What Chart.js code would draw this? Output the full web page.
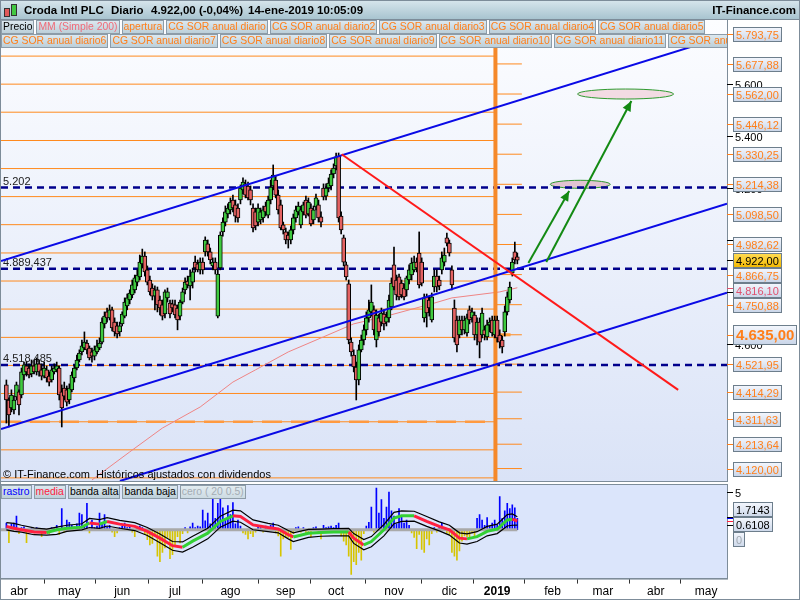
<!DOCTYPE html>
<html>
<head>
<meta charset="utf-8">
<title>Croda Intl PLC - Diario</title>
<script src="https://cdn.jsdelivr.net/npm/chart.js@4.4.1/dist/chart.umd.min.js"></script>
<style>
  body { margin: 0; background: #fff; font-family: "Liberation Sans", Arial, sans-serif; }
  #wrap { position: relative; width: 800px; height: 600px; overflow: hidden; }
  canvas { position: absolute; left: 0; }
  #main { top: 0; }
  #osc { top: 484px; }
  #head { position: absolute; left: 0; top: 0; width: 800px; height: 20px; box-sizing: border-box;
          border: 1px solid #7d8c99; background: linear-gradient(#d5e4eb, #a8c4d0);
          font-weight: bold; font-size: 11.5px; color: #000; }
  #head span { position: absolute; top: 3px; white-space: nowrap; }
  .ic { position: absolute; border: 1px solid #333; }
  .lg { position: absolute; left: 1px; width: 726px; height: 14px; overflow: hidden; white-space: nowrap;
        font-size: 10.4px; line-height: 12px; }
  .lg span { display: inline-block; height: 12px; padding: 0 1px; margin-right: 2px; border: 1px solid #8d9ca8;
             background: linear-gradient(#dce8ef, #bccfd9); color: #ff7f1a; vertical-align: top; }
  #frame { position: absolute; left: 0; top: 0; width: 800px; height: 600px; box-sizing: border-box;
           border: 1px solid #7d8c99; pointer-events: none; }
</style>
</head>
<body>
<div id="wrap">
  <canvas id="main" width="800" height="484"></canvas>
  <canvas id="osc" width="800" height="116"></canvas>

  <div id="head">
    <div class="ic" style="left:3px;top:7px;width:4px;height:7px;background:#e05a5a"></div>
    <div class="ic" style="left:10px;top:3px;width:4px;height:10px;background:#42c842"></div>
    <span style="left:23px">Croda Intl PLC</span>
    <span style="left:110px">Diario</span>
    <span style="left:150px">4.922,00 (-0,04%)</span>
    <span style="left:247px">14-ene-2019 10:05:09</span>
    <span style="right:3px">IT-Finance.com</span>
  </div>

  <div class="lg" style="top:20px">
    <span style="color:#000">Precio</span><span style="color:#f06a78">MM (Simple 200)</span><span>apertura</span><span>CG SOR anual diario</span><span>CG SOR anual diario2</span><span>CG SOR anual diario3</span><span>CG SOR anual diario4</span><span>CG SOR anual diario5</span>
  </div>
  <div class="lg" style="top:34px">
    <span>CG SOR anual diario6</span><span>CG SOR anual diario7</span><span>CG SOR anual diario8</span><span>CG SOR anual diario9</span><span>CG SOR anual diario10</span><span>CG SOR anual diario11</span><span>CG SOR anual diario12</span>
  </div>
  <div class="lg" style="top:485px">
    <span style="color:#0000ff">rastro</span><span style="color:#ff2040">media</span><span style="color:#000">banda alta</span><span style="color:#000">banda baja</span><span style="color:#a4acb4;background:linear-gradient(#e2ecf1,#cddbe3)">cero ( 20 0.5)</span>
  </div>
  <div id="frame"></div>
</div>

<script>
// x = trading day number (0 = 23-mar-2018), y = price in pence
var idxMin = -2.14, idxMax = 286.3;
var priceMin = 4072, priceMax = 5847;
var oscMin = -6.45, oscMax = 5.92;

var monthTicks = [5, 25, 46, 67, 89, 111, 131, 154, 176, 195, 217, 237, 258, 278];
var monthNames = ['abr', 'may', 'jun', 'jul', 'ago', 'sep', 'oct', 'nov', 'dic', '2019', 'feb', 'mar', 'abr', 'may'];

var openP = [
  4442,4384,4353,4346,4396,4415,4403,4480,4515,4507,
  4484,4515,4492,4523,4500,4476,4500,4476,4461,4492,
  4500,4507,4415,4430,4423,4384,4423,4469,4507,4538,
  4569,4584,4603,4584,4569,4553,4569,4584,4607,4677,
  4723,4700,4731,4684,4669,4646,4677,4707,4746,4769,
  4788,4808,4838,4858,4908,4938,4885,4846,4815,4784,
  4808,4769,4750,4715,4777,4757,4754,4750,4738,4707,
  4761,4808,4842,4823,4838,4915,4908,4885,4915,4954,
  4985,4954,4900,4915,4707,4892,5031,5069,5100,5116,
  5154,5135,5123,5154,5193,5216,5208,5193,5123,5108,
  5069,5077,5085,5131,5096,5154,5208,5231,5173,5135,
  5058,5031,5019,5000,5039,5085,5108,5058,5108,5154,
  5100,5123,5077,5127,5135,5089,5200,5169,5200,5208,
  5254,5285,5323,5092,5008,4904,4831,4607,4557,4511,
  4461,4577,4615,4654,4700,4723,4731,4615,4700,4684,
  4715,4684,4700,4742,4904,4846,4858,4834,4815,4808,
  4846,4865,4885,4915,4950,4915,4700,4781,4769,4692,
  4819,4861,4846,4885,4915,5008,4988,4885,4738,4692,
  4634,4692,4654,4642,4731,4700,4711,4634,4684,4634,
  4654,4627,4673,4692,4634,4692,4634,4615,4646,4723,
  4769,4873,4954,4935
];
var highP = [
  4461,4392,4423,4399,4453,4423,4507,4530,4530,4523,
  4538,4538,4546,4538,4523,4530,4515,4492,4515,4523,
  4530,4515,4442,4453,4438,4446,4492,4519,4557,4577,
  4615,4646,4615,4592,4584,4592,4615,4623,4700,4723,
  4738,4750,4742,4700,4684,4684,4723,4777,4792,4808,
  4846,4865,4885,4942,4965,4954,4900,4861,4831,4823,
  4819,4784,4769,4808,4815,4769,4769,4769,4750,4769,
  4815,4854,4861,4885,4892,4938,4923,4931,4931,5012,
  5000,4969,4931,4931,4885,5031,5085,5131,5139,5162,
  5173,5154,5139,5212,5239,5231,5223,5208,5139,5123,
  5139,5123,5131,5146,5169,5231,5289,5246,5193,5154,
  5069,5046,5031,5054,5100,5131,5146,5131,5146,5169,
  5162,5139,5131,5177,5154,5108,5216,5216,5239,5270,
  5293,5335,5335,5108,5019,4915,4846,4623,4577,4530,
  4596,4634,4673,4723,4769,4827,4746,4731,4715,4738,
  4731,4723,4788,4854,4973,4865,4869,4846,4831,4861,
  4904,4931,4938,4931,5031,4931,4792,4792,4784,4796,
  4885,4885,4861,4954,4969,5027,5000,4900,4769,4707,
  4707,4707,4707,4715,4746,4738,4723,4700,4700,4738,
  4669,4692,4700,4707,4707,4707,4654,4630,4746,4800,
  4838,4931,4992,4950
];
var lowP = [
  4295,4280,4338,4330,4384,4326,4392,4461,4476,4469,
  4473,4484,4480,4476,4461,4469,4453,4438,4453,4484,
  4492,4384,4280,4384,4361,4369,4415,4453,4500,4530,
  4557,4577,4561,4538,4530,4538,4561,4577,4600,4661,
  4684,4692,4650,4630,4623,4630,4669,4700,4731,4754,
  4777,4796,4823,4846,4892,4861,4827,4788,4769,4731,
  4723,4711,4692,4700,4761,4700,4723,4700,4654,4692,
  4754,4792,4815,4769,4815,4877,4877,4869,4869,4938,
  4938,4908,4885,4869,4700,4885,5015,5054,5085,5100,
  5108,5069,5069,5139,5177,5162,5154,5135,5031,5039,
  5054,5062,5069,5092,5085,5139,5193,5162,5100,5039,
  5023,4985,4969,4985,5023,5069,5096,5046,5096,5085,
  5092,5054,5062,5116,5069,5050,5154,5154,5185,5193,
  5239,5270,5069,5023,4900,4846,4600,4553,4492,4384,
  4442,4569,4596,4634,4684,4707,4634,4588,4630,4669,
  4654,4669,4684,4731,4808,4769,4769,4777,4769,4784,
  4831,4846,4877,4877,4815,4823,4684,4665,4707,4684,
  4800,4800,4808,4869,4900,4977,4938,4808,4607,4569,
  4623,4634,4638,4630,4677,4684,4615,4596,4546,4623,
  4615,4615,4646,4630,4623,4607,4584,4565,4630,4711,
  4757,4861,4908,4908
];
var closeP = [
  4384,4326,4403,4384,4442,4365,4492,4519,4492,4480,
  4515,4492,4523,4492,4476,4507,4469,4453,4500,4507,
  4515,4403,4353,4399,4376,4430,4480,4507,4538,4565,
  4592,4607,4577,4546,4553,4577,4592,4603,4684,4707,
  4700,4731,4661,4646,4638,4669,4715,4761,4777,4796,
  4827,4854,4865,4915,4938,4877,4838,4800,4784,4808,
  4750,4738,4707,4800,4800,4715,4738,4711,4692,4761,
  4800,4838,4827,4861,4877,4892,4885,4915,4885,5000,
  4954,4923,4915,4885,4869,5019,5069,5108,5123,5146,
  5123,5092,5085,5200,5223,5173,5162,5154,5046,5054,
  5123,5108,5116,5108,5154,5204,5250,5173,5116,5046,
  5039,5000,5000,5039,5085,5116,5131,5116,5135,5096,
  5146,5062,5116,5162,5085,5069,5166,5200,5219,5254,
  5277,5320,5085,5039,4915,4858,4615,4569,4511,4461,
  4577,4615,4654,4700,4731,4761,4654,4711,4646,4719,
  4677,4704,4769,4834,4819,4788,4781,4788,4781,4854,
  4885,4911,4915,4892,4827,4834,4777,4719,4738,4781,
  4861,4819,4823,4931,4942,4988,4950,4827,4623,4596,
  4692,4654,4692,4700,4692,4723,4634,4684,4607,4719,
  4634,4673,4684,4642,4692,4623,4607,4588,4723,4781,
  4819,4915,4923,4922
];

var ma200Idx = [34, 49, 62, 77, 90, 99, 112, 126, 138, 151, 170, 177, 196, 203];
var ma200Val = [4076, 4184, 4276, 4357, 4453, 4500, 4569, 4627, 4677, 4707, 4757, 4777, 4800, 4816.10];

var gridLevels = [5708, 5600, 5492, 5383, 5275, 5167, 5059, 4950, 4842, 4734, 4625, 4517, 4409, 4300, 4192, 4084];
var sorLevels = [5793.75, 5677.88, 5562.00, 5446.12, 5330.25, 5214.38, 5098.50, 4982.62,
                 4866.75, 4750.88, 4635.00, 4521.95, 4414.29, 4311.63, 4213.64, 4120.00];
var priceTicks = [5600, 5400, 5200, 5000, 4800, 4600];
var lastPrice = 4922, ma200Last = 4816.10, aperturaLevel = 4635, dashedLevel = 4300;
var supportLevels = [5202, 4889.437, 4518.485];
var supportText = ['5.202', '4.889,437', '4.518,485'];
var yearIdx = 194.3;

var channelTop = [[-2.14, 4919], [286.3, 5787]];
var channelMid = [[-2.14, 4272], [286.3, 5140]];
var channelLow = [[45.1, 4072], [286.3, 4797]];
var redTrend = [[133.2, 5330], [266.9, 4423]];
var arrowA = [[207.4, 4911], [223.6, 5189]];
var arrowB = [[214.5, 4915], [248.3, 5535]];
var targetIdx = [228, 246];
var targetPrice = [5214.38, 5562.00];

var rastro = [
  0.9,-1.7,0.8,0.9,1.8,-0.5,0.3,0.4,-1.7,-0.3,
  0.2,-0.4,0.3,-0.2,-0.9,0.2,-0.4,-0.5,0.3,0.2,
  0.6,-0.6,2.8,-0.3,1.3,1.0,0.6,0.4,0.8,2.2,
  2.0,0.5,3.5,-0.4,1.3,0.3,0.5,2.2,1.0,2.0,
  0.4,0.6,-0.3,-0.9,-0.4,0.3,0.5,0.9,0.3,0.4,
  -0.3,-0.9,0.2,0.5,0.3,-0.6,-1.3,-2.0,-1.8,-0.8,
  -3.5,-4.2,-3.0,-2.4,-1.0,-3.8,-3.3,-2.0,-0.9,-1.75,
  -0.5,0.3,-0.4,0.4,0.9,0.3,0.5,0.4,2.6,1.2,
  2.2,0.8,4.2,1.5,3.5,4.2,2.9,1.4,3.2,2.0,
  3.6,0.8,1.3,0.5,-0.4,-0.6,-1.2,-0.5,-0.9,-0.3,
  0.4,0.3,-0.3,0.5,0.4,0.6,0.9,-0.4,-0.8,-3.5,
  -1.2,-0.9,-1.0,-2.6,-0.5,0.3,0.4,-0.3,0.3,-0.4,
  -0.5,-0.9,0.3,0.4,-0.5,-1.2,0.6,0.3,0.4,0.5,
  0.3,0.6,0.9,-0.8,-1.5,-2.0,-3.5,-5.9,-4.2,-4.6,
  -3.0,-4.0,-0.5,0.5,1.0,3.0,-0.3,5.5,2.2,4.0,
  1.5,3.0,5.0,2.5,1.8,0.8,2.8,1.8,0.9,1.3,
  0.6,-0.4,-1.0,-2.5,-0.6,-2.6,-3.0,-1.2,-2.0,-0.5,
  0.3,-0.3,0.4,0.9,0.3,-0.4,-0.6,-3.0,-3.5,-4.0,
  -2.8,-1.5,-0.8,-0.9,-1.0,-0.4,-0.8,1.5,2.0,1.3,
  0.6,1.6,0.5,0.9,1.3,0.7,4.4,1.5,2.5,3.5,
  2.8,3.3,2.9,1.5
];

var oscIdx = [0,3,6,11,16,20,24,30,33,37,40,45,51,56,61,66,70,74,80,85,90,93,98,104,108,
              112,114,120,125,130,136,138,142,145,150,154,157,162,167,172,176,180,183,187,191,195,199,201,203];
var media = [0.45,0.2,0,-0.3,-0.35,0,0.2,0.35,0.9,0.75,1.1,0.75,0.45,-0.2,-1.1,-2.1,-2.3,-1.5,-0.45,1.1,
             1.85,1.75,0.65,0.3,0.1,-0.65,-0.95,-0.45,-0.35,-0.3,-0.3,-1.1,-2.0,-1.55,0,1.55,1.85,1.85,1.1,0.45,
             0,-1.1,-1.2,-0.9,-0.2,0.1,1.3,1.4,1.16];
var bandHi = [0.95,0.85,0.6,0.25,0.1,0.35,0.6,0.8,1.5,1.35,1.6,1.25,0.95,0.3,-0.55,-1.55,-1.6,-0.85,0.2,1.8,
              2.6,2.5,1.3,0.85,0.6,-0.1,-0.4,0.05,0.1,0.15,0.2,-0.5,-1.3,-0.9,0.7,2.3,2.5,2.45,1.75,1.05,
              0.6,-0.4,-0.55,-0.25,0.45,0.75,2.0,2.1,1.7143];
var bandLo = [0,-0.2,-0.3,-0.65,-0.7,-0.6,-0.2,0,0.3,0.2,0.5,0.2,-0.1,-0.75,-1.7,-2.7,-2.95,-2.3,-1.2,0.35,
              1.15,1.0,0,-0.25,-0.4,-1.2,-1.55,-1.0,-0.85,-0.8,-0.8,-1.8,-2.65,-2.25,-0.8,0.8,1.1,1.15,0.45,-0.15,
              -0.7,-1.75,-1.9,-1.55,-0.8,-0.5,0.5,0.6,0.6108];

var FONT = '"Liberation Sans", Arial, sans-serif';

function fmtEs(v, dec) {
  var s = v.toFixed(dec).split('.');
  var ent = s[0].replace(/\B(?=(\d{3})+(?!\d))/g, '.');
  return dec ? ent + ',' + s[1] : ent;
}

function line(pts, color, width, order, dash) {
  return {
    type: 'line',
    data: pts.map(function (p) { return {x: p[0], y: p[1]}; }),
    borderColor: color, borderWidth: width, borderDash: dash || [],
    pointRadius: 0, fill: false, tension: 0, order: order
  };
}

function drawTag(c, t, x) {
  c.font = t.font;
  var w = Math.round(c.measureText(t.text).width) + 5;
  var top = Math.round(t.cy - t.h / 2) + 0.5;
  var g = c.createLinearGradient(0, top, 0, top + t.h);
  g.addColorStop(0, t.bg[0]); g.addColorStop(1, t.bg[1]);
  c.fillStyle = g;
  c.fillRect(x + 0.5, top, w, t.h);
  c.strokeStyle = '#6d7e8c'; c.lineWidth = 1;
  c.strokeRect(x + 0.5, top, w, t.h);
  c.fillStyle = t.color; c.textBaseline = 'middle'; c.textAlign = 'left';
  c.fillText(t.text, x + 3, top + t.h / 2 + 1);
}

function spread(tags, pushOnly) {
  tags.sort(function (p, q) { return p.y - q.y; });
  tags.forEach(function (t) { t.cy = t.y; });
  for (var it = 0; it < 40; it++) {
    for (var k = 1; k < tags.length; k++) {
      var p = tags[k - 1], q = tags[k], need = (p.h + q.h) / 2 + 1, d = q.cy - p.cy;
      if (d < need) {
        if (pushOnly) { q.cy = p.cy + need; }
        else { var m = (need - d) / 2; p.cy -= m; q.cy += m; }
      }
    }
  }
}

// ---------- main price chart ----------
var idx = closeP.map(function (v, i) { return i; });
var wickData = idx.map(function (i) { return {x: i, y: [lowP[i], highP[i]]}; });
var bodyData = idx.map(function (i) { return {x: i, y: [openP[i], closeP[i]]}; });
var bodyColors = idx.map(function (i) { return closeP[i] >= openP[i] ? '#3fca3f' : '#e46262'; });

var ds = [];
gridLevels.forEach(function (v) { ds.push(line([[idxMin, v], [yearIdx, v]], '#ff8a1e', 1, 20)); });
sorLevels.forEach(function (v) { ds.push(line([[yearIdx, v], [yearIdx + 10.5, v]], '#ff8a1e', 1, 20)); });
ds.push(line([[yearIdx, aperturaLevel], [yearIdx + 6, aperturaLevel]], '#ff9a36', 3, 19));
ds.push(line([[idxMin, dashedLevel], [yearIdx, dashedLevel]], '#ff9a40', 2.5, 19, [20, 9]));
supportLevels.forEach(function (v) { ds.push(line([[idxMin, v], [idxMax, v]], '#00008c', 2.5, 18, [7, 5])); });
ds.push(line(ma200Idx.map(function (x, k) { return [x, ma200Val[k]]; }), '#ef8585', 1, 17));
ds.push(line([[yearIdx, priceMin], [yearIdx, priceMax]], '#f5892a', 4, 16));
ds.push({type: 'bar', data: wickData, backgroundColor: '#000', barThickness: 1, grouped: false, order: 15});
ds.push({type: 'bar', data: bodyData, backgroundColor: bodyColors, borderColor: '#000', borderWidth: 1,
         borderSkipped: false, barThickness: 4, grouped: false, order: 14});
[channelTop, channelMid, channelLow].forEach(function (l) { ds.push(line(l, '#0a0ae6', 2, 10)); });
ds.push(line(redTrend, '#ff1a1a', 2, 9));
ds.push(line(arrowA, '#138a13', 2, 8));
ds.push(line(arrowB, '#138a13', 2, 8));

var mainDecor = {
  id: 'mainDecor',
  beforeDraw: function (chart) {
    var a = chart.chartArea, c = chart.ctx;
    var g = c.createLinearGradient(0, a.top, 0, a.bottom);
    g.addColorStop(0, '#fcfdff'); g.addColorStop(1, '#dae3f7');
    c.fillStyle = g;
    c.fillRect(a.left, a.top, a.right - a.left, a.bottom - a.top);
  },
  beforeDatasetsDraw: function (chart) {
    var c = chart.ctx, xs = chart.scales.x, ys = chart.scales.y;
    c.save();
    c.font = '11px ' + FONT; c.fillStyle = '#202020'; c.textBaseline = 'alphabetic';
    supportLevels.forEach(function (v, k) { c.fillText(supportText[k], 3, ys.getPixelForValue(v) - 3); });
    var rad = [[30, 4], [48, 5]];
    targetIdx.forEach(function (ix, k) {
      c.beginPath();
      c.ellipse(xs.getPixelForValue(ix), ys.getPixelForValue(targetPrice[k]), rad[k][0], rad[k][1], 0, 0, Math.PI * 2);
      c.fillStyle = k ? '#f3dbe3' : '#e2c3d2'; c.fill();
      c.strokeStyle = '#2f9a2f'; c.lineWidth = 1; c.stroke();
    });
    c.restore();
  },
  afterDatasetsDraw: function (chart) {
    var c = chart.ctx, xs = chart.scales.x, ys = chart.scales.y, a = chart.chartArea;
    c.save();
    [arrowA, arrowB].forEach(function (l) {
      var x0 = xs.getPixelForValue(l[0][0]), y0 = ys.getPixelForValue(l[0][1]);
      var x1 = xs.getPixelForValue(l[1][0]), y1 = ys.getPixelForValue(l[1][1]);
      var ang = Math.atan2(y1 - y0, x1 - x0);
      c.beginPath();
      c.moveTo(x1, y1);
      c.lineTo(x1 - 10 * Math.cos(ang) + 4.5 * Math.sin(ang), y1 - 10 * Math.sin(ang) - 4.5 * Math.cos(ang));
      c.lineTo(x1 - 10 * Math.cos(ang) - 4.5 * Math.sin(ang), y1 - 10 * Math.sin(ang) + 4.5 * Math.cos(ang));
      c.closePath();
      c.fillStyle = '#138a13'; c.fill();
    });
    c.font = '11px ' + FONT; c.fillStyle = '#000'; c.textBaseline = 'middle';
    c.fillText('\u00a9 IT-Finance.com  Hist\u00f3ricos ajustados con dividendos', 3, a.bottom - 6);
    c.restore();
  },
  afterDraw: function (chart) {
    var c = chart.ctx, a = chart.chartArea, ys = chart.scales.y;
    c.save();
    c.strokeStyle = '#7d8c99'; c.lineWidth = 1;
    c.strokeRect(a.left - 0.5, a.top - 0.5, a.right - a.left + 1, a.bottom - a.top + 1);

    c.font = '11px ' + FONT; c.textBaseline = 'middle'; c.textAlign = 'left';
    priceTicks.forEach(function (v) {
      var y = Math.round(ys.getPixelForValue(v)) + 0.5;
      c.strokeStyle = '#000'; c.beginPath(); c.moveTo(a.right, y); c.lineTo(a.right + 6, y); c.stroke();
      c.fillStyle = '#000'; c.fillText(fmtEs(v, 0), a.right + 8, y + 1);
    });

    var orange = {color: '#ff7f1a', font: '11px ' + FONT, h: 14, bg: ['#f4f7fd', '#c9d5e8'], tick: '#ff7f1a'};
    var tags = sorLevels.map(function (v) {
      var t = Object.assign({}, orange, {v: v, text: fmtEs(v, 2)});
      if (v === aperturaLevel) { t.font = 'bold 15px ' + FONT; t.h = 19; }
      return t;
    });
    tags.push(Object.assign({}, orange, {v: ma200Last, text: fmtEs(ma200Last, 2), color: '#e0506e', tick: '#e0506e'}));
    tags.push(Object.assign({}, orange, {v: lastPrice, text: fmtEs(lastPrice, 2), color: '#000',
                                         bg: ['#ffdc55', '#f2b800'], tick: '#000'}));
    tags.forEach(function (t) { t.y = ys.getPixelForValue(t.v); });
    spread(tags, true);
    tags.forEach(function (t) {
      var y = Math.round(t.y) + 0.5;
      c.strokeStyle = t.tick; c.beginPath(); c.moveTo(a.right, y); c.lineTo(a.right + 6, y); c.stroke();
      drawTag(c, t, a.right + 6);
    });
    c.restore();
  }
};

new Chart(document.getElementById('main'), {
  type: 'bar',
  data: {datasets: ds},
  options: {
    responsive: false, animation: false, devicePixelRatio: 1, events: [],
    layout: {padding: {left: 1, right: 73, top: 20, bottom: 3}},
    scales: {
      x: {type: 'linear', min: idxMin, max: idxMax, display: false, offset: false},
      y: {type: 'linear', min: priceMin, max: priceMax, display: false}
    },
    plugins: {legend: {display: false}, tooltip: {enabled: false}}
  },
  plugins: [mainDecor]
});

// ---------- oscillator panel ----------
var oscPts = function (arr) { return oscIdx.map(function (x, k) { return [x, arr[k]]; }); };
var mediaSet = line(oscPts(media), '#ff2040', 3, 2);
mediaSet.segment = {
  borderColor: function (ctx) { return ctx.p1.parsed.y < ctx.p0.parsed.y ? '#ff2040' : '#34d034'; }
};

var oscDecor = {
  id: 'oscDecor',
  beforeDraw: function (chart) {
    var a = chart.chartArea, c = chart.ctx;
    c.fillStyle = '#dbe5fb';
    c.fillRect(a.left, a.top, a.right - a.left, a.bottom - a.top);
  },
  afterDraw: function (chart) {
    var c = chart.ctx, a = chart.chartArea, ys = chart.scales.y;
    c.save();
    c.strokeStyle = '#7d8c99'; c.lineWidth = 1;
    c.strokeRect(a.left - 0.5, a.top - 0.5, a.right - a.left + 1, a.bottom - a.top + 1);
    c.font = '11px ' + FONT; c.textBaseline = 'middle';
    var y5 = Math.round(ys.getPixelForValue(5)) + 0.5;
    c.strokeStyle = '#000'; c.beginPath(); c.moveTo(a.right, y5); c.lineTo(a.right + 6, y5); c.stroke();
    c.fillStyle = '#000'; c.fillText('5', a.right + 8, y5 + 1);

    var last = oscIdx.length - 1;
    [[bandHi[last], '#000'], [media[last], '#ff2040'], [rastro[rastro.length - 1], '#0000ff'], [bandLo[last], '#000']]
      .forEach(function (m) {
        var y = Math.round(ys.getPixelForValue(m[0])) + 0.5;
        c.strokeStyle = m[1]; c.beginPath(); c.moveTo(a.right, y); c.lineTo(a.right + 6, y); c.stroke();
      });

    var tags = [
      {v: bandHi[last], text: '1.7143', color: '#000'},
      {v: bandLo[last], text: '0.6108', color: '#000'},
      {v: 0, text: '0', color: '#a0a8b0'}
    ].map(function (t) {
      return Object.assign(t, {font: '11px ' + FONT, h: 14, bg: ['#f4f7fd', '#cdd8ea'], y: ys.getPixelForValue(t.v)});
    });
    spread(tags, false);
    tags.forEach(function (t) { drawTag(c, t, a.right + 6); });
    c.restore();
  }
};

new Chart(document.getElementById('osc'), {
  type: 'bar',
  data: {
    datasets: [
      {type: 'bar', data: idx.map(function (i) { return {x: i, y: rastro[i]}; }),
       backgroundColor: rastro.map(function (v) { return v >= 0 ? '#0000ff' : '#d6c400'; }),
       barThickness: 1, grouped: false, order: 5},
      line([[idxMin, 0], [203, 0]], '#a9a9a9', 3, 4),
      line(oscPts(bandHi), '#000', 1.2, 3),
      line(oscPts(bandLo), '#000', 1.2, 3),
      mediaSet
    ]
  },
  options: {
    responsive: false, animation: false, devicePixelRatio: 1, events: [],
    layout: {padding: {left: 1, right: 73, top: 1, bottom: 0}},
    scales: {
      x: {
        type: 'linear', min: idxMin, max: idxMax, offset: false,
        afterBuildTicks: function (scale) { scale.ticks = monthTicks.map(function (v) { return {value: v}; }); },
        ticks: {
          autoSkip: false, maxRotation: 0, padding: 1, color: '#000',
          callback: function (v, k) { return monthNames[k]; },
          font: function (ctx) {
            return {family: FONT, size: 12, weight: ctx.tick && ctx.tick.value === 195 ? 'bold' : 'normal'};
          }
        },
        grid: {drawOnChartArea: false, tickLength: 5, color: '#333'},
        border: {display: true, color: '#7d8c99'}
      },
      y: {type: 'linear', min: oscMin, max: oscMax, display: false}
    },
    plugins: {legend: {display: false}, tooltip: {enabled: false}}
  },
  plugins: [oscDecor]
});
</script>
</body>
</html>
